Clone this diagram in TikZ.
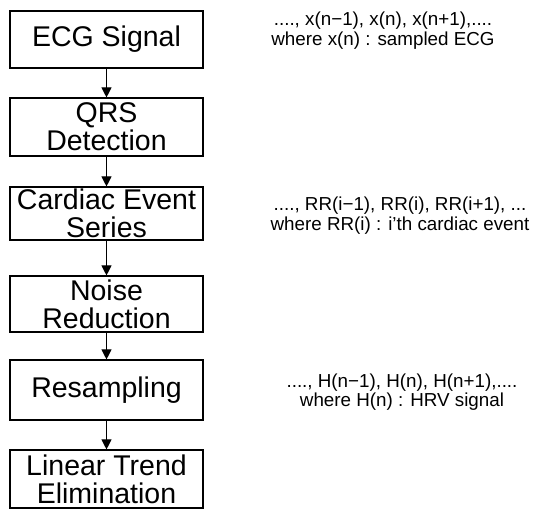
\documentclass[tikz,border=0pt]{standalone}
\usepackage{fontspec}
\setmainfont{Liberation Sans}
\usetikzlibrary{arrows.meta}
\begin{document}
\begin{tikzpicture}[x=1pt,y=1pt,
  box/.style={draw, line width=1.1pt, minimum width=193pt, inner sep=0pt,
    font=\fontsize{28.5}{28}\selectfont, align=center},
  arr/.style={-{Triangle[length=10pt,width=10pt]}, line width=1pt},
  note/.style={font=\fontsize{18.8}{19.5}\selectfont, align=center, inner sep=0pt}]
\useasboundingbox (0,0) rectangle (542,509);
\node[box, minimum height=57pt] (ecg) at (106.5,469.5) {ECG Signal};
\node[box, minimum height=58pt] (qrs) at (106.5,382) {QRS\\Detection};
\node[box, minimum height=53pt] (card) at (106.5,295.5) {Cardiac Event\\Series};
\node[box, minimum height=56pt] (noise) at (106.5,205) {Noise\\Reduction};
\node[box, minimum height=60pt] (res) at (106.5,119) {Resampling};
\node[box, minimum height=58pt] (lin) at (106.5,30) {Linear Trend\\Elimination};
\draw[arr] (ecg) -- (qrs);
\draw[arr] (qrs) -- (card);
\draw[arr] (card) -- (noise);
\draw[arr] (noise) -- (res);
\draw[arr] (res) -- (lin);
\node[note] (n1) at (383,478.5) {...., x(n−1), x(n), x(n+1),....\\where x(n) : sampled ECG};
\node[note] (n2) at (400,293.5) {...., RR(i−1), RR(i), RR(i+1), ...\\where RR(i) : i'th cardiac event};
\node[note] (n3) at (402,117) {...., H(n−1), H(n), H(n+1),....\\where H(n) : HRV signal};
\end{tikzpicture}
\end{document}
